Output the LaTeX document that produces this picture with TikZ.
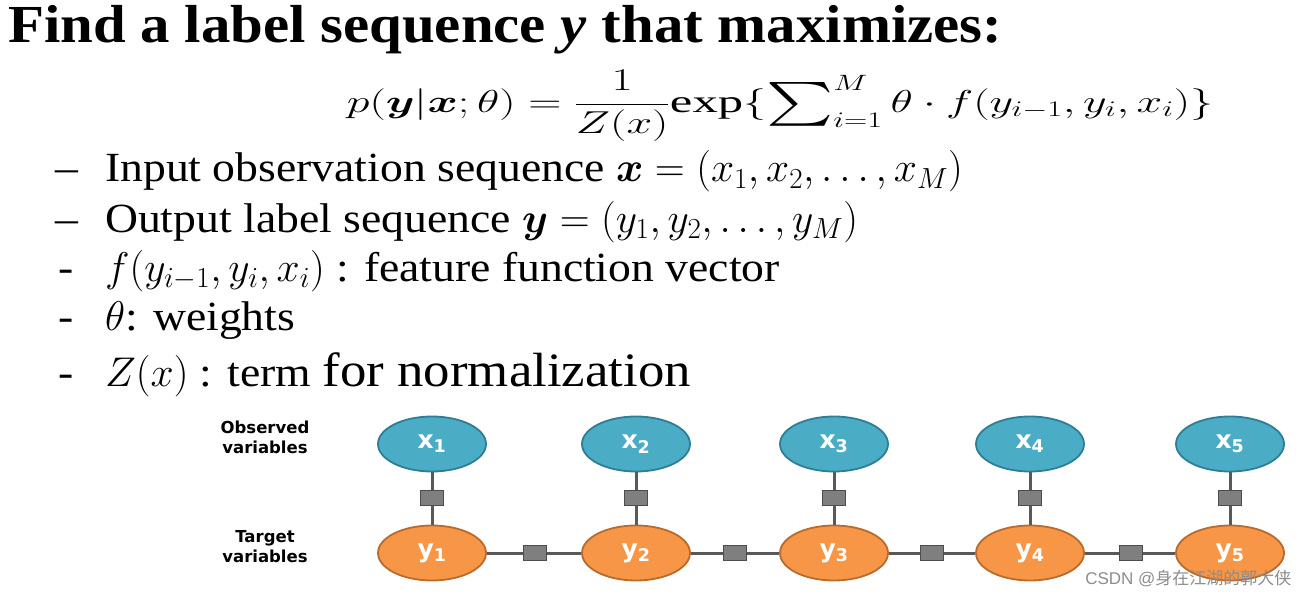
\RequirePackage{fix-cm}
\documentclass[tikz,border=0pt]{standalone}
\usepackage{amsmath}
\usepackage{exscale}
\usepackage{bm}
\usepackage{graphicx}
\usepackage{fontspec}
\setmainfont{Liberation Serif}[FakeStretch=1.1]
\setsansfont{Liberation Sans}
\newfontfamily\graphfont{DejaVu Sans}
\newfontfamily\cjkfont{Noto Sans CJK SC}
\usetikzlibrary{
    positioning,
    shapes.geometric
}

\definecolor{obsblue}{HTML}{4BACC6}
\definecolor{obsedge}{HTML}{2E7E96}
\definecolor{tgtorange}{HTML}{F79646}
\definecolor{tgtedge}{HTML}{B96B2E}
\definecolor{factorgray}{HTML}{7F7F7F}
\definecolor{factoredge}{HTML}{4D4D4D}
\definecolor{linkgray}{HTML}{595959}

\newcommand{\bigsigma}{\mathop{\vcenter{\hbox{\scalebox{2.0}{$\textstyle\sum$}}}}\nolimits}

\begin{document}
\begin{tikzpicture}[
x=1pt, y=-1pt,
obsnode/.style={
ellipse,
draw=obsedge,
line width=1.8pt,
fill=obsblue,
minimum width=108pt,
minimum height=55pt,
text=white,
font=\graphfont\bfseries\fontsize{25}{27}\selectfont
},
tgtnode/.style={
obsnode,
draw=tgtedge,
fill=tgtorange
},
factor/.style={
draw=factoredge,
line width=1.5pt,
fill=factorgray,
minimum width=23pt,
minimum height=15pt,
inner sep=0pt
},
link/.style={
draw=linkgray,
line width=3pt
},
sidelabel/.style={
align=center,
font=\graphfont\bfseries\fontsize{16.5}{20}\selectfont
},
bullet/.style={
anchor=base west,
inner sep=0pt,
font=\fontsize{41.5}{45}\selectfont
}
]

\useasboundingbox (0,0) rectangle (1308,596);

% heading and model
\node[anchor=base west, inner sep=0pt,
font=\bfseries\fontsize{53.5}{56}\selectfont] (title) at (8,43)
{Find a label sequence \textit{y} that maximizes:};

\node[inner sep=0pt, font=\fontsize{36}{40}\selectfont] (model) at (780,106)
{\scalebox{1.28}[0.88]{$\displaystyle p(\bm{y}|\bm{x};\theta)=\frac{1}{Z(x)}\textnormal{exp}\{\bigsigma_{i=1}^{M}\theta\cdot f(y_{i-1},y_i,x_i)\}$}};

% definitions
\node[bullet] (dash1) at (55,182) {\textendash};
\node[bullet] (def1) at (105,182)
{Input observation sequence $\bm{x}=(x_1,x_2,\dots,x_M)$};
\node[bullet] (dash2) at (55,232) {\textendash};
\node[bullet] (def2) at (105,232)
{Output label sequence $\bm{y}=(y_1,y_2,\dots,y_M)$};
\node[bullet] (dash3) at (58,281) {-};
\node[bullet] (def3) at (105,281)
{$f(y_{i-1},y_i,x_i)$ : feature function vector};
\node[bullet] (dash4) at (58,330) {-};
\node[bullet] (def4) at (105,330) {$\theta$: weights};
\node[bullet] (dash5) at (58,386) {-};
\node[bullet] (def5) at (105,386)
{$Z(x)$ : term {\fontsize{48}{50}\selectfont for normalization}};

% chain of variables
\node[sidelabel] (obslabel) at (265,437) {Observed\\variables};
\node[sidelabel] (tgtlabel) at (265,547) {Target\\variables};

\foreach \i/\cx in {1/432,2/636,3/834,4/1030,5/1230} {
\node[obsnode] (x\i) at (\cx,444) {x\textsubscript{\i}};
\node[tgtnode] (y\i) at (\cx,553) {y\textsubscript{\i}};
\node[factor] (fx\i) at (\cx,498) {};
\draw[link] (x\i) -- (fx\i);
\draw[link] (fx\i) -- (y\i);
}

\foreach \i/\j/\cx in {1/2/535,2/3/735,3/4/932,4/5/1131} {
\node[factor] (fy\i) at (\cx,553) {};
\draw[link] (y\i) -- (fy\i);
\draw[link] (fy\i) -- (y\j);
}

\node[anchor=east, text=black!45, font=\sffamily\fontsize{17}{19}\selectfont]
(mark) at (1295,578) {CSDN @{\cjkfont 身在江湖的郭大侠}};

\end{tikzpicture}
\end{document}
